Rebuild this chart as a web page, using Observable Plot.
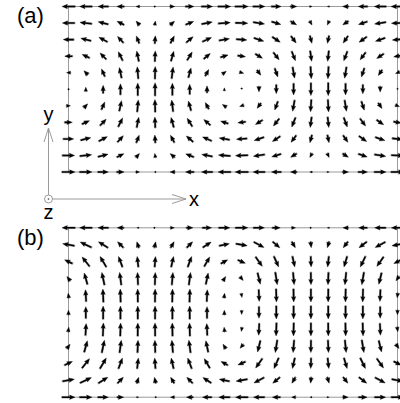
<!DOCTYPE html>
<html><head><meta charset="utf-8">
<script src="https://cdn.jsdelivr.net/npm/d3@7"></script>
<script src="https://cdn.jsdelivr.net/npm/@observablehq/plot@0.6"></script>
<style>
html,body{margin:0;padding:0;background:#fff;}
#chart{position:relative;width:400px;height:403px;overflow:hidden;font-family:"Liberation Sans",Arial,sans-serif;}
#chart > svg{position:absolute;left:0;}
</style></head><body><div id="chart"></div>
<script>
// Panel (a): horizontal (u) and vertical (w) components, rows top -> bottom, 20 columns each
const uA = [
  [-1.00,-0.95,-0.80,-0.56,-0.27, 0.05, 0.36, 0.64, 0.85, 0.97, 1.00, 0.91, 0.74, 0.48, 0.18,-0.15,-0.45,-0.71,-0.90,-0.99],
  [-0.95,-0.90,-0.76,-0.53,-0.26, 0.05, 0.34, 0.61, 0.81, 0.92, 0.95, 0.86, 0.70, 0.46, 0.17,-0.14,-0.43,-0.67,-0.86,-0.94],
  [-0.81,-0.77,-0.65,-0.45,-0.22, 0.04, 0.29, 0.52, 0.69, 0.79, 0.81, 0.74, 0.60, 0.39, 0.15,-0.12,-0.36,-0.58,-0.73,-0.80],
  [-0.59,-0.56,-0.47,-0.33,-0.16, 0.03, 0.21, 0.38, 0.50, 0.57, 0.59, 0.54, 0.44, 0.28, 0.11,-0.09,-0.27,-0.42,-0.53,-0.58],
  [-0.31,-0.29,-0.25,-0.17,-0.08, 0.02, 0.11, 0.20, 0.26, 0.30, 0.31, 0.28, 0.23, 0.15, 0.06,-0.05,-0.14,-0.22,-0.28,-0.31],
  [ 0.00, 0.00, 0.00, 0.00, 0.00, 0.00, 0.00, 0.00, 0.00, 0.00, 0.00, 0.00, 0.00, 0.00, 0.00, 0.00, 0.00, 0.00, 0.00, 0.00],
  [ 0.31, 0.29, 0.25, 0.17, 0.08,-0.02,-0.11,-0.20,-0.26,-0.30,-0.31,-0.28,-0.23,-0.15,-0.06, 0.05, 0.14, 0.22, 0.28, 0.31],
  [ 0.59, 0.56, 0.47, 0.33, 0.16,-0.03,-0.21,-0.38,-0.50,-0.57,-0.59,-0.54,-0.44,-0.28,-0.11, 0.09, 0.27, 0.42, 0.53, 0.58],
  [ 0.81, 0.77, 0.65, 0.45, 0.22,-0.04,-0.29,-0.52,-0.69,-0.79,-0.81,-0.74,-0.60,-0.39,-0.15, 0.12, 0.36, 0.58, 0.73, 0.80],
  [ 0.95, 0.90, 0.76, 0.53, 0.26,-0.05,-0.34,-0.61,-0.81,-0.92,-0.95,-0.86,-0.70,-0.46,-0.17, 0.14, 0.43, 0.67, 0.86, 0.94],
  [ 1.00, 0.95, 0.80, 0.56, 0.27,-0.05,-0.36,-0.64,-0.85,-0.97,-1.00,-0.91,-0.74,-0.48,-0.18, 0.15, 0.45, 0.71, 0.90, 0.99]
];
const wA = [
  [ 0.00, 0.00, 0.00, 0.00, 0.00, 0.00, 0.00, 0.00, 0.00, 0.00, 0.00, 0.00, 0.00, 0.00, 0.00, 0.00, 0.00, 0.00, 0.00, 0.00],
  [ 0.00, 0.10, 0.19, 0.26, 0.30, 0.31, 0.29, 0.24, 0.16, 0.07,-0.03,-0.13,-0.21,-0.27,-0.30,-0.31,-0.28,-0.22,-0.14,-0.04],
  [ 0.00, 0.19, 0.35, 0.49, 0.57, 0.59, 0.55, 0.45, 0.31, 0.13,-0.06,-0.24,-0.40,-0.52,-0.58,-0.58,-0.53,-0.41,-0.26,-0.08],
  [ 0.00, 0.26, 0.49, 0.67, 0.78, 0.81, 0.75, 0.62, 0.42, 0.18,-0.08,-0.33,-0.55,-0.71,-0.79,-0.80,-0.72,-0.57,-0.36,-0.11],
  [ 0.00, 0.30, 0.57, 0.79, 0.91, 0.95, 0.88, 0.73, 0.49, 0.21,-0.10,-0.39,-0.65,-0.84,-0.93,-0.94,-0.85,-0.67,-0.42,-0.12],
  [ 0.00, 0.32, 0.60, 0.83, 0.96, 1.00, 0.93, 0.77, 0.52, 0.22,-0.10,-0.41,-0.68,-0.88,-0.98,-0.99,-0.89,-0.70,-0.44,-0.13],
  [ 0.00, 0.30, 0.57, 0.79, 0.91, 0.95, 0.88, 0.73, 0.49, 0.21,-0.10,-0.39,-0.65,-0.84,-0.93,-0.94,-0.85,-0.67,-0.42,-0.12],
  [ 0.00, 0.26, 0.49, 0.67, 0.78, 0.81, 0.75, 0.62, 0.42, 0.18,-0.08,-0.33,-0.55,-0.71,-0.79,-0.80,-0.72,-0.57,-0.36,-0.11],
  [ 0.00, 0.19, 0.35, 0.49, 0.57, 0.59, 0.55, 0.45, 0.31, 0.13,-0.06,-0.24,-0.40,-0.52,-0.58,-0.58,-0.53,-0.41,-0.26,-0.08],
  [ 0.00, 0.10, 0.19, 0.26, 0.30, 0.31, 0.29, 0.24, 0.16, 0.07,-0.03,-0.13,-0.21,-0.27,-0.30,-0.31,-0.28,-0.22,-0.14,-0.04],
  [ 0.00, 0.00, 0.00, 0.00, 0.00, 0.00, 0.00, 0.00, 0.00, 0.00, 0.00, 0.00, 0.00, 0.00, 0.00, 0.00, 0.00, 0.00, 0.00, 0.00]
];
// Panel (b)
const uB = [
  [-1.00,-0.95,-0.80,-0.50,-0.15, 0.10, 0.30, 0.50, 0.70, 0.85, 0.95, 0.85, 0.60, 0.30, 0.05,-0.15,-0.40,-0.65,-0.85,-0.95],
  [-0.90,-0.86,-0.72,-0.45,-0.14, 0.09, 0.27, 0.45, 0.63, 0.77, 0.86, 0.77, 0.54, 0.27, 0.05,-0.14,-0.36,-0.59,-0.77,-0.86],
  [-0.60,-0.57,-0.48,-0.30,-0.09, 0.06, 0.18, 0.30, 0.42, 0.51, 0.57, 0.51, 0.36, 0.18, 0.03,-0.09,-0.24,-0.39,-0.51,-0.57],
  [-0.25,-0.24,-0.20,-0.13,-0.04, 0.03, 0.08, 0.13, 0.18, 0.21, 0.24, 0.21, 0.15, 0.08, 0.01,-0.04,-0.10,-0.16,-0.21,-0.24],
  [-0.05,-0.05,-0.04,-0.03,-0.01, 0.01, 0.02, 0.03, 0.04, 0.04, 0.05, 0.04, 0.03, 0.02, 0.00,-0.01,-0.02,-0.03,-0.04,-0.05],
  [ 0.00, 0.00, 0.00, 0.00, 0.00, 0.00, 0.00, 0.00, 0.00, 0.00, 0.00, 0.00, 0.00, 0.00, 0.00, 0.00, 0.00, 0.00, 0.00, 0.00],
  [ 0.05, 0.05, 0.04, 0.03, 0.01,-0.01,-0.02,-0.03,-0.04,-0.04,-0.05,-0.04,-0.03,-0.02, 0.00, 0.01, 0.02, 0.03, 0.04, 0.05],
  [ 0.25, 0.24, 0.20, 0.13, 0.04,-0.03,-0.08,-0.13,-0.18,-0.21,-0.24,-0.21,-0.15,-0.08,-0.01, 0.04, 0.10, 0.16, 0.21, 0.24],
  [ 0.60, 0.57, 0.48, 0.30, 0.09,-0.06,-0.18,-0.30,-0.42,-0.51,-0.57,-0.51,-0.36,-0.18,-0.03, 0.09, 0.24, 0.39, 0.51, 0.57],
  [ 0.90, 0.86, 0.72, 0.45, 0.14,-0.09,-0.27,-0.45,-0.63,-0.77,-0.86,-0.77,-0.54,-0.27,-0.05, 0.14, 0.36, 0.59, 0.77, 0.86],
  [ 1.00, 0.95, 0.80, 0.50, 0.15,-0.10,-0.30,-0.50,-0.70,-0.85,-0.95,-0.85,-0.60,-0.30,-0.05, 0.15, 0.40, 0.65, 0.85, 0.95]
];
const wB = [
  [ 0.00, 0.00, 0.00, 0.00, 0.00, 0.00, 0.00, 0.00, 0.00, 0.00, 0.00, 0.00, 0.00, 0.00, 0.00, 0.00, 0.00, 0.00, 0.00, 0.00],
  [ 0.16, 0.41, 0.45, 0.45, 0.45, 0.45, 0.45, 0.45, 0.41, 0.16,-0.14,-0.41,-0.45,-0.45,-0.45,-0.45,-0.45,-0.45,-0.41,-0.16],
  [ 0.28, 0.72, 0.80, 0.80, 0.80, 0.80, 0.80, 0.80, 0.72, 0.28,-0.24,-0.72,-0.80,-0.80,-0.80,-0.80,-0.80,-0.80,-0.72,-0.28],
  [ 0.33, 0.86, 0.95, 0.95, 0.95, 0.95, 0.95, 0.95, 0.86, 0.33,-0.29,-0.86,-0.95,-0.95,-0.95,-0.95,-0.95,-0.95,-0.86,-0.33],
  [ 0.35, 0.90, 1.00, 1.00, 1.00, 1.00, 1.00, 1.00, 0.90, 0.35,-0.30,-0.90,-1.00,-1.00,-1.00,-1.00,-1.00,-1.00,-0.90,-0.35],
  [ 0.35, 0.90, 1.00, 1.00, 1.00, 1.00, 1.00, 1.00, 0.90, 0.35,-0.30,-0.90,-1.00,-1.00,-1.00,-1.00,-1.00,-1.00,-0.90,-0.35],
  [ 0.35, 0.90, 1.00, 1.00, 1.00, 1.00, 1.00, 1.00, 0.90, 0.35,-0.30,-0.90,-1.00,-1.00,-1.00,-1.00,-1.00,-1.00,-0.90,-0.35],
  [ 0.33, 0.86, 0.95, 0.95, 0.95, 0.95, 0.95, 0.95, 0.86, 0.33,-0.29,-0.86,-0.95,-0.95,-0.95,-0.95,-0.95,-0.95,-0.86,-0.33],
  [ 0.28, 0.72, 0.80, 0.80, 0.80, 0.80, 0.80, 0.80, 0.72, 0.28,-0.24,-0.72,-0.80,-0.80,-0.80,-0.80,-0.80,-0.80,-0.72,-0.28],
  [ 0.16, 0.41, 0.45, 0.45, 0.45, 0.45, 0.45, 0.45, 0.41, 0.16,-0.14,-0.41,-0.45,-0.45,-0.45,-0.45,-0.45,-0.45,-0.41,-0.16],
  [ 0.00, 0.00, 0.00, 0.00, 0.00, 0.00, 0.00, 0.00, 0.00, 0.00, 0.00, 0.00, 0.00, 0.00, 0.00, 0.00, 0.00, 0.00, 0.00, 0.00]
];
const panelLabels = ["(a)", "(b)"];
const axisNames = ["x", "y", "z"];

// quiver-style filled arrow, pointing up from the origin, length l
const quiverArrow = {
  draw(ctx, l) {
    const W = 1.55, HW = 4.4, HL = 5.4, HAL = 4.9, minLen = 1.4;
    if (l < minLen) { ctx.moveTo(0.75, 0); ctx.arc(0, 0, 0.75, 0, 2 * Math.PI); return; }
    const s = l < HL ? l / HL : 1;
    const L = l / s;
    const pts = [[-W/2, 0], [-W/2, -(L - HAL)], [-HW/2, -(L - HL)], [0, -L], [HW/2, -(L - HL)], [W/2, -(L - HAL)], [W/2, 0]];
    pts.forEach(([px, py], i) => i ? ctx.lineTo(px * s, py * s) : ctx.moveTo(px * s, py * s));
    ctx.closePath();
  }
};

function field(u, w) {
  const out = [];
  u.forEach((row, r) => row.forEach((uu, c) => out.push({c, r, u: uu, w: w[r][c]})));
  return out;
}

function panel(u, w, label, height, mTop, mBottom, labelDy) {
  const data = field(u, w);
  return Plot.plot({
    width: 400, height, marginLeft: 68, marginRight: 3, marginTop: mTop, marginBottom: mBottom,
    x: {domain: [0, 19], axis: null},
    y: {domain: [0, 10], reverse: true, axis: null},
    length: {type: "linear", domain: [0, 1], range: [0, 13]},
    style: {background: "transparent", overflow: "visible"},
    marks: [
      Plot.frame({stroke: "#9a9a9a", strokeWidth: 1}),
      Plot.vector(data, {
        x: "c", y: "r",
        length: d => Math.hypot(d.u, d.w),
        rotate: d => Math.atan2(d.u, d.w) * 180 / Math.PI,
        anchor: "middle", shape: quiverArrow,
        fill: "#000", stroke: "#000", strokeWidth: 0.35
      }),
      Plot.text([label], {
        frameAnchor: "top-left", textAnchor: "start", lineAnchor: "bottom",
        dx: -51.5, dy: labelDy, fontSize: 22, fontFamily: "Liberation Sans", fill: "#000"
      })
    ]
  });
}

const chart = document.getElementById("chart");
const a = panel(uA, wA, panelLabels[0], 190, 6, 18.5, 16.5);
a.style.top = "0px";
const b = panel(uB, wB, panelLabels[1], 182, 6.3, 6.3, 16.9);
b.style.top = "221px";
chart.append(a, b);

// coordinate-system key between the panels
const key = d3.create("svg").attr("width", 400).attr("height", 403)
  .style("position", "absolute").style("left", "0px").style("top", "0px");
const g = key.append("g").attr("stroke", "#9a9a9a").attr("fill", "none").attr("stroke-width", 1);
g.append("line").attr("x1", 48.5).attr("y1", 199).attr("x2", 48.5).attr("y2", 128);
g.append("polyline").attr("points", "44,142 48.5,128 53,142");
g.append("line").attr("x1", 48.5).attr("y1", 199).attr("x2", 186).attr("y2", 199);
g.append("polyline").attr("points", "172,194.5 186,199 172,203.5");
g.append("circle").attr("cx", 48.5).attr("cy", 199).attr("r", 4).attr("fill", "#fff");
g.append("circle").attr("cx", 48.5).attr("cy", 199).attr("r", 0.9).attr("fill", "#777").attr("stroke", "none");
const t = key.append("g").attr("font-family", "Liberation Sans").attr("font-size", 20).attr("fill", "#000");
t.append("text").attr("x", 189).attr("y", 206).text(axisNames[0]);
t.append("text").attr("x", 48.5).attr("y", 121).attr("text-anchor", "middle").text(axisNames[1]);
t.append("text").attr("x", 48.5).attr("y", 218.5).attr("text-anchor", "middle").text(axisNames[2]);
chart.append(key.node());
</script></body></html>
